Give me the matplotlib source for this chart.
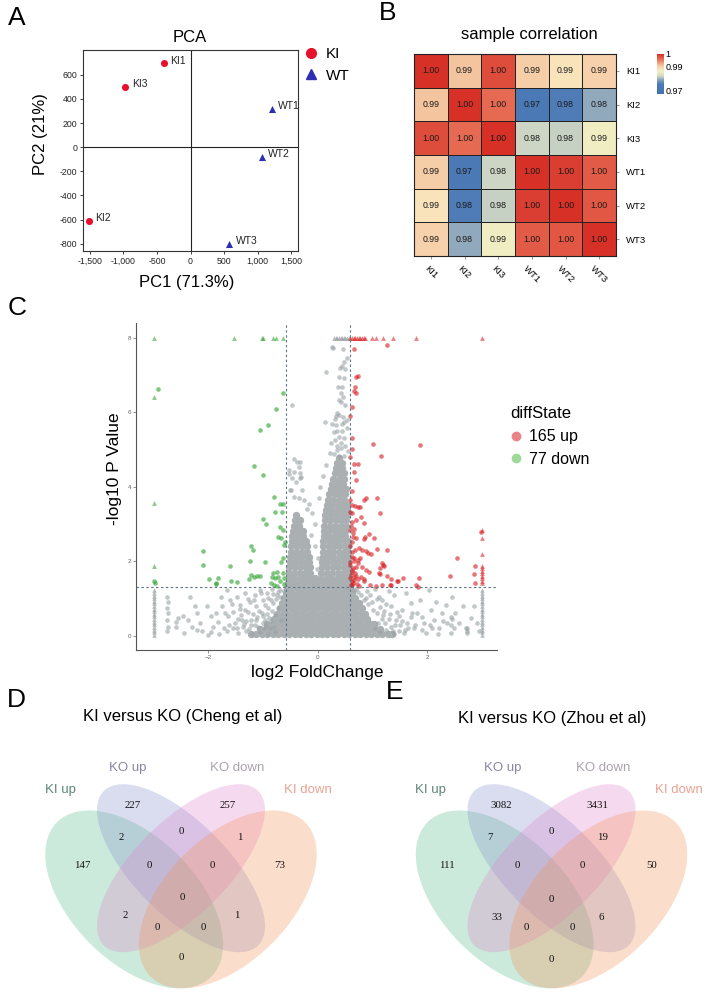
import numpy as np
import matplotlib
matplotlib.use('Agg')
import matplotlib.pyplot as plt
from matplotlib.patches import Ellipse
from matplotlib.colors import LinearSegmentedColormap, Normalize
from matplotlib.lines import Line2D

plt.rcParams['font.family'] = ['Liberation Sans', 'DejaVu Sans']

# ---------------- DATA ----------------
# A: PCA
pca_samples = ['KI1', 'KI2', 'KI3', 'WT1', 'WT2', 'WT3']
pca_group = ['KI', 'KI', 'KI', 'WT', 'WT', 'WT']
pca_pc1 = [-400, -1520, -970, 1210, 1060, 580]
pca_pc2 = [695, -610, 500, 320, -80, -800]
pca_xticks = [-1500, -1000, -500, 0, 500, 1000, 1500]
pca_yticks = [-800, -600, -400, -200, 0, 200, 400, 600]

# B: sample correlation
corr_labels = ['KI1', 'KI2', 'KI3', 'WT1', 'WT2', 'WT3']
corr_values = [
    [1.000, 0.9905, 0.998, 0.9900, 0.9875, 0.9895],
    [0.9905, 1.000, 0.996, 0.9745, 0.9755, 0.9790],
    [0.998, 0.996, 1.000, 0.9815, 0.9812, 0.9856],
    [0.9900, 0.9745, 0.9815, 1.000, 0.9990, 0.9970],
    [0.9875, 0.9755, 0.9812, 0.9990, 1.000, 0.9972],
    [0.9895, 0.9790, 0.9856, 0.9970, 0.9972, 1.000],
]
corr_ticks = [0.97, 0.99, 1.0]
corr_ticklabels = ['0.97', '0.99', '1']

# C: volcano  (x = log2 FoldChange, y = -log10 P)
fc_cut = 0.585
p_cut = 1.301
# dense grey cloud (rows of points)
gray_dense_y = [0.04, 0.18, 0.32, 0.46, 0.60, 0.74, 0.88, 1.02, 1.16, 1.28,
                1.42, 1.56, 1.70, 1.84, 1.98, 2.12, 2.26, 2.40, 2.54, 2.68,
                2.82, 2.96, 3.10, 3.24, 3.38, 3.52, 3.66, 3.80, 3.94, 4.08, 4.22, 4.36,
                4.50, 4.64, 4.78]
gray_dense_x = [
    [-1.22, -1.12, -1.02, -0.92, -0.82, -0.72, -0.62, -0.52, -0.42, -0.32, -0.22, -0.12, -0.02, 0.08, 0.18, 0.28, 0.38, 0.48, 0.58, 0.68, 0.78, 0.88, 0.98, 1.08, 1.18, 1.28, 1.36],
    [-1.05, -0.95, -0.85, -0.75, -0.65, -0.55, -0.45, -0.35, -0.25, -0.15, -0.05, 0.05, 0.15, 0.25, 0.35, 0.45, 0.55, 0.65, 0.75, 0.85, 0.95, 1.05, 1.14],
    [-0.92, -0.82, -0.72, -0.62, -0.52, -0.42, -0.32, -0.22, -0.12, -0.02, 0.08, 0.18, 0.28, 0.38, 0.48, 0.58, 0.68, 0.78, 0.88, 0.98, 1.03],
    [-0.80, -0.70, -0.60, -0.50, -0.40, -0.30, -0.20, -0.10, 0.00, 0.10, 0.20, 0.30, 0.40, 0.50, 0.60, 0.70, 0.80, 0.90],
    [-0.74, -0.64, -0.54, -0.44, -0.34, -0.24, -0.14, -0.04, 0.06, 0.16, 0.26, 0.36, 0.46, 0.56, 0.66, 0.76, 0.86],
    [-0.69, -0.59, -0.49, -0.39, -0.29, -0.19, -0.09, 0.01, 0.11, 0.21, 0.31, 0.41, 0.51, 0.61, 0.71, 0.81],
    [-0.65, -0.55, -0.45, -0.35, -0.25, -0.15, -0.05, 0.05, 0.15, 0.25, 0.35, 0.45, 0.55, 0.65, 0.75],
    [-0.61, -0.51, -0.41, -0.31, -0.21, -0.11, -0.01, 0.09, 0.19, 0.29, 0.39, 0.49, 0.59, 0.69],
    [-0.58, -0.48, -0.38, -0.28, -0.18, -0.08, 0.02, 0.12, 0.22, 0.32, 0.42, 0.52, 0.62],
    [-0.56, -0.46, -0.36, -0.26, -0.16, -0.06, 0.04, 0.14, 0.24, 0.34, 0.44, 0.54, 0.60],
    [-0.54, -0.44, -0.34, -0.24, -0.14, -0.04, 0.03, 0.10, 0.20, 0.30, 0.40, 0.50, 0.56],
    [-0.53, -0.43, -0.33, -0.23, -0.13, -0.05, 0.07, 0.17, 0.27, 0.37, 0.47, 0.56],
    [-0.53, -0.43, -0.33, -0.23, -0.13, 0.07, 0.17, 0.27, 0.37, 0.47, 0.56],
    [-0.52, -0.42, -0.32, -0.22, -0.14, 0.08, 0.18, 0.28, 0.38, 0.48, 0.56],
    [-0.51, -0.41, -0.31, -0.21, -0.15, 0.08, 0.18, 0.28, 0.38, 0.48, 0.56],
    [-0.50, -0.40, -0.30, -0.20, -0.16, 0.09, 0.19, 0.29, 0.39, 0.49, 0.56],
    [-0.49, -0.39, -0.29, -0.19, 0.09, 0.19, 0.29, 0.39, 0.49, 0.56],
    [-0.48, -0.38, -0.28, -0.20, 0.10, 0.20, 0.30, 0.40, 0.50, 0.56],
    [-0.47, -0.37, -0.27, -0.21, 0.10, 0.20, 0.30, 0.40, 0.50, 0.56],
    [-0.46, -0.36, -0.26, 0.11, 0.21, 0.31, 0.41, 0.51],
    [-0.45, -0.35, -0.27, 0.11, 0.21, 0.31, 0.41, 0.51],
    [-0.43, -0.34, 0.12, 0.22, 0.32, 0.42, 0.52],
    [-0.41, -0.33, 0.13, 0.23, 0.33, 0.43, 0.52],
    [-0.39, 0.14, 0.24, 0.34, 0.44, 0.53],
    [0.15, 0.25, 0.35, 0.45, 0.54],
    [0.17, 0.27, 0.37, 0.47, 0.54],
    [0.19, 0.29, 0.39, 0.49],
    [0.21, 0.31, 0.41, 0.51],
    [0.24, 0.34, 0.44, 0.52],
    [0.27, 0.37, 0.47],
    [0.29, 0.39, 0.49],
    [0.31, 0.41, 0.49],
    [0.34, 0.44],
    [0.36, 0.45],
    [0.40],
]
# sparse grey points
gray_x = [-2.75, -2.73, -2.75, -2.73, -2.75, -2.73, -2.75, -2.59, -2.59, -2.55, -2.46, -2.37, -2.34, -2.30,
          -2.24, -2.21, -2.15, -2.12, -2.03, -2.00, -1.94, -1.92, -1.85, -1.82, -1.76, -1.74, -1.71, -1.66,
          -1.63, -1.60, -1.54, -1.51, -1.48, -1.42, -1.39, -1.36, -1.33, -1.27, -1.24, -1.21, -1.15, -1.12,
          -1.09, -1.05, -1.02, -0.99, -0.96, -0.93, -0.90, -0.87, -0.84, -0.81, -0.78, -0.75, -0.72, -0.69, -0.66,
          -2.45, -2.20, -1.95, -1.80, -1.65, -1.55, -1.45, -1.30, -1.20, -1.15, -1.05, -0.98, -1.40, -1.30,
          -1.18, -1.10, -1.00, -0.92, -0.90, -0.85, -0.80, -0.78,
          -1.62, -1.48, -1.35, -1.25, -1.12, -1.00, -0.95, -0.88, -0.83, -1.45, -1.33, -1.22, -1.08, -0.96,
          -0.86, -0.76, -1.70, -1.57, -1.42, -1.28, -1.16, -1.03, -0.91, -0.82, -0.73, -0.68, -0.62,
          1.09, 1.18, 1.24, 1.34, 1.40, 1.43, 1.49, 1.55, 1.61, 1.64, 1.70, 1.76, 1.82, 1.88, 1.95, 1.98,
          2.04, 2.07, 2.13, 2.16, 2.22, 2.28, 2.34, 2.37, 2.43, 2.46, 2.52, 2.59, 2.65, 2.71, 2.74, 2.80,
          2.86, 2.92, 2.95, 1.05, 1.10, 1.15, 1.20, 1.25, 1.30, 1.35, 1.40, 1.45, 1.50, 1.60, 1.70, 1.25,
          1.12, 1.00, 0.95, 1.05, 0.90, 0.85, 1.30, 2.20, 2.50, 2.45, 1.90, 2.05, 2.74, 2.74, 2.43, 2.43,
          1.42, 1.55, 1.66, 1.78, 1.22, 1.33, 1.48, 1.15, 1.02, 0.93, 0.88, 0.80, 0.74, 0.70, 0.66, 1.08,
          1.18, 1.38, 1.58, 1.72, 1.90, 2.10, 2.30,
          -0.44, -0.37, -0.52, -0.43, -0.34, -0.46, -0.40, -0.31, -0.49, -0.28, -0.43, -0.34, -0.25, -0.51,
          -0.46, -0.33, -0.33, -0.52, -0.32, -0.20, -0.15, -0.10, -0.05, -0.12, -0.05, 0.00, -0.02,
          0.13, 0.15, 0.27, 0.29, 0.46, 0.53, 0.48, 0.45, 0.41, 0.50, 0.40, 0.48, 0.38, 0.45, 0.43, 0.46,
          0.39, 0.43, 0.50, 0.36, 0.34, 0.39, 0.32, 0.47, 0.53, 0.27, 0.33, 0.45, 0.49, 0.36, 0.30, 0.45,
          0.53, 0.39, 0.48, 0.31, 0.42, 0.25, 0.35, 0.43, 0.51, 0.36, 0.30, 0.39, 0.48, 0.55, 0.22, 0.15,
          0.10, 0.05, 0.02]
gray_y = [1.05, 0.92, 0.74, 0.61, 0.43, 0.25, 0.12, 0.38, 0.25, 0.47, 0.52, 0.43, 1.05, 0.25,
          0.79, 0.61, 0.34, 0.12, 0.79, 0.03, 0.52, 0.25, 0.61, 0.38, 1.05, 0.79, 0.21, 1.23,
          0.52, 0.96, 0.65, 0.34, 1.05, 0.83, 0.43, 0.25, 1.14, 0.65, 0.92, 0.43, 1.10, 0.79,
          0.25, 1.23, 0.61, 0.96, 0.43, 1.14, 0.74, 0.21, 1.25, 0.88, 0.56, 1.10, 0.74, 1.23, 0.43,
          0.08, 0.15, 0.10, 0.05, 0.12, 0.20, 0.08, 0.14, 0.06, 0.30, 0.10, 0.20, 0.55, 0.40,
          0.60, 0.50, 0.35, 0.60, 0.05, 0.40, 0.25, 0.10,
          0.30, 0.22, 0.32, 0.18, 0.42, 0.52, 0.30, 0.48, 0.66, 0.45, 0.70, 0.28, 0.66, 0.82,
          0.95, 0.98, 0.62, 0.85, 0.72, 0.98, 0.95, 1.15, 1.02, 1.12, 1.18, 1.05, 1.20,
          0.61, 0.96, 0.34, 0.79, 1.10, 0.43, 0.12, 0.70, 1.14, 0.34, 0.88, 0.21, 0.61, 0.96, 0.34, 0.07,
          1.23, 0.70, 0.43, 0.92, 0.21, 0.61, 0.83, 0.34, 0.07, 1.05, 0.61, 0.34, 0.79, 0.21, 0.07, 0.47,
          0.79, 0.34, 0.12, 0.20, 0.35, 0.10, 0.55, 0.15, 0.45, 0.25, 0.05, 0.65, 0.30, 0.15, 0.50, 0.85,
          1.05, 0.90, 1.10, 1.25, 1.20, 0.95, 1.20, 0.05, 0.20, 0.45, 0.15, 0.30, 0.14, 0.21, 0.30, 0.50,
          0.28, 0.40, 0.22, 0.30, 0.68, 0.58, 0.52, 0.78, 0.70, 0.85, 1.02, 1.10, 1.18, 1.26, 1.22, 0.98,
          0.45, 0.12, 0.08, 0.62, 0.50, 0.22, 0.40,
          4.76, 4.67, 4.45, 4.41, 4.54, 4.23, 4.14, 4.27, 3.91, 3.91, 3.73, 3.69, 3.65, 3.91,
          6.21, 4.38, 4.24, 4.34, 4.67, 3.40, 3.55, 3.30, 3.00, 2.70, 2.40, 2.10, 1.80,
          5.75, 7.09, 7.76, 7.74, 7.71, 7.45, 7.35, 7.24, 7.18, 7.16, 6.94, 6.91, 6.68, 6.67, 6.51, 6.42,
          6.33, 6.27, 6.21, 5.99, 5.91, 5.93, 5.82, 5.88, 5.79, 5.70, 5.66, 5.68, 5.74, 5.50, 5.48, 5.50,
          5.59, 5.34, 5.30, 5.25, 5.19, 5.19, 5.10, 5.05, 5.10, 4.99, 4.87, 4.83, 4.83, 4.95, 4.90, 4.60,
          4.30, 4.00, 3.70]
# grey points outside the plotted range (triangles)
gray_tri_x = [-3.0] * 18 + [3.0] * 18 + [0.30, 0.33, 0.36, 0.39, 0.42, 0.45, 0.48, 0.51, 0.54, 0.57]
gray_tri_y = [0.03, 0.10, 0.17, 0.24, 0.31, 0.38, 0.45, 0.52, 0.59, 0.66, 0.73, 0.80, 0.87, 0.94, 1.01, 1.08, 1.15, 1.22,
              0.03, 0.10, 0.17, 0.24, 0.31, 0.38, 0.45, 0.52, 0.59, 0.66, 0.73, 0.80, 0.87, 0.94, 1.01, 1.08, 1.15, 1.22,
              8, 8, 8, 8, 8, 8, 8, 8, 8, 8]
# up-regulated (165 up)
up_x = [1.27, 0.66, 0.71, 0.74, 0.68, 0.66, 0.71, 0.62, 0.59, 0.62, 1.01, 1.88, 0.62, 1.16, 0.66, 0.73, 0.70,
        0.85, 0.88, 1.09, 1.14, 0.63, 0.68, 0.73, 0.77, 0.60, 0.63, 0.79, 0.84, 0.63, 0.60, 0.66, 0.94, 0.87,
        0.85, 1.04, 0.65, 0.70, 0.63, 0.76, 0.82, 0.88, 0.92, 0.97, 1.08, 1.26, 0.62, 0.67, 0.73, 1.20, 1.15,
        0.82, 0.88, 0.94, 0.60, 0.65, 0.62, 0.68, 1.12, 1.14, 1.26, 0.79, 0.84, 0.85, 1.34, 1.46, 1.56, 0.62,
        0.67, 0.63, 0.96, 1.06, 1.17, 1.34, 1.79, 1.84, 1.86, 2.55, 2.42, 2.88, 2.86, 2.88, 2.98,
        0.61, 0.64, 0.60, 0.66, 0.61, 0.70, 0.63, 0.60, 0.66, 0.62, 0.68, 0.60, 0.65, 0.61, 0.70, 0.60, 0.62,
        0.66, 0.60, 0.72, 0.74, 0.76, 0.70, 0.74, 0.78, 1.21, 1.18, 1.32, 1.47]
up_y = [7.80, 7.69, 6.94, 6.98, 6.68, 6.58, 6.52, 6.15, 5.90, 5.32, 5.15, 5.12, 5.01, 4.83, 4.62, 4.62, 4.18,
        3.66, 3.69, 3.71, 3.29, 3.51, 3.48, 3.46, 3.45, 3.33, 3.29, 3.20, 3.02, 3.06, 2.84, 2.88, 2.73, 2.66,
        2.59, 2.64, 2.66, 2.62, 2.53, 2.35, 2.30, 2.28, 2.23, 2.21, 2.32, 2.30, 2.13, 2.08, 2.04, 1.90, 1.81,
        1.86, 1.77, 1.72, 1.90, 1.81, 1.72, 1.68, 1.68, 1.65, 1.62, 1.59, 1.53, 1.47, 1.52, 1.47, 1.54, 1.46,
        1.50, 1.37, 1.37, 1.34, 1.37, 1.37, 1.37, 1.32, 1.54, 2.08, 1.61, 1.88, 1.65, 1.41, 2.79,
        1.36, 1.42, 1.55, 1.58, 1.64, 1.60, 1.78, 1.98, 2.00, 2.25, 2.30, 2.42, 2.75, 2.95, 3.10, 3.65, 3.90,
        4.40, 4.80, 1.40, 1.52, 1.35, 1.85, 1.95, 2.10, 1.88, 1.95, 1.37, 1.46]
up_tri_x = [0.60, 0.63, 0.66, 0.69, 0.72, 0.75, 0.78, 0.81, 0.84, 0.87, 1.00, 1.06, 1.19, 1.38, 1.80, 3.01,
            3.0, 3.0, 3.0, 3.0, 3.0, 3.0, 3.0, 3.0, 3.0, 3.0, 3.0]
up_tri_y = [8, 8, 8, 8, 8, 8, 8, 8, 8, 8, 8, 8, 8, 8, 8, 8,
            2.64, 2.21, 1.88, 1.81, 1.75, 1.68, 1.61, 1.54, 1.47, 1.41, 2.84]
# down-regulated (77 down)
down_x = [-2.91, -0.64, -0.76, -0.90, -1.05, -1.17, -1.00, -0.79, -0.68, -0.63, -0.78, -0.65, -1.00, -0.95,
          -0.68, -0.63, -0.72, -0.66, -0.60, -0.61, -1.22, -1.19, -2.09, -2.10, -1.61, -1.24, -0.96, -0.64,
          -0.66, -1.21, -1.16, -1.10, -1.05, -0.82, -0.75, -0.84, -0.78, -0.72, -0.63, -0.62, -1.25, -1.98,
          -1.82, -1.86, -1.85, -1.59, -1.48, -0.86, -0.80, -0.75, -0.69, -0.62, -3.00, -2.97]
down_y = [6.64, 6.51, 6.10, 5.66, 5.52, 4.57, 4.33, 3.72, 3.54, 3.54, 3.32, 3.33, 3.13, 3.00,
          2.93, 2.84, 2.66, 2.62, 2.53, 2.44, 2.41, 2.31, 2.28, 1.90, 1.88, 2.01, 1.99, 2.08,
          1.99, 1.64, 1.59, 1.62, 1.62, 1.70, 1.72, 1.59, 1.55, 1.59, 1.68, 1.55, 1.53, 1.53,
          1.56, 1.43, 1.38, 1.46, 1.44, 1.41, 1.37, 1.34, 1.46, 1.39, 1.46, 1.42]
down_tri_x = [-3.0, -1.53, -1.02, -1.00, -0.82, -0.76, -0.64, -3.0, -3.0, -3.0]
down_tri_y = [8, 8, 8, 8, 8, 8, 8, 6.42, 3.57, 1.88]
volcano_xticks = [-2, 0, 2]
volcano_yticks = [0, 2, 4, 6, 8]
volcano_legend = ['165 up', '77 down']

# D / E: Venn diagrams
venn_sets = ['KI up', 'KO up', 'KO down', 'KI down']
# region order: KOup, KOdown, KIup&KOup, KOup&KOdown, KOdown&KIdown, KIup, KIup&KOup&KOdown,
#   KOup&KOdown&KIdown, KIdown, all, KIup&KOdown, KOup&KIdown, KIup&KOdown&KIdown, KIup&KOup&KIdown, KIup&KIdown
cheng_counts = [227, 257, 2, 0, 1, 147, 0, 0, 73, 0, 2, 1, 0, 0, 0]
zhou_counts = [3082, 3431, 7, 0, 19, 111, 0, 0, 50, 0, 33, 6, 0, 0, 0]

# ---------------- LAYOUT HELPERS ----------------
W, H = 728, 1000
fig = plt.figure(figsize=(W / 100, H / 100), dpi=100)


def fxy(x, y):
    return x / W, 1 - y / H


def rect(l, t, r, b):
    return [l / W, 1 - b / H, (r - l) / W, (b - t) / H]


def ftext(x, y, s, **kw):
    fx, fy = fxy(x, y)
    kw.setdefault('ha', 'center')
    kw.setdefault('va', 'center')
    return fig.text(fx, fy, s, **kw)


# panel letters
for lab, (x, y) in zip('ABCDE', [(17, 18), (388, 13), (17, 308), (16, 700), (395, 692)]):
    ftext(x, y, lab, fontsize=19)

# ---------------- A: PCA ----------------
axA = fig.add_axes(rect(83, 50, 298, 251))
col = {'KI': '#e8112d', 'WT': '#2e2eb5'}
mk = {'KI': 'o', 'WT': '^'}
for g in ['KI', 'WT']:
    xs = [x for x, gg in zip(pca_pc1, pca_group) if gg == g]
    ys = [y for y, gg in zip(pca_pc2, pca_group) if gg == g]
    axA.scatter(xs, ys, s=26, marker=mk[g], color=col[g], lw=0, zorder=3)
for s, x, y in zip(pca_samples, pca_pc1, pca_pc2):
    axA.annotate(s, (x, y), xytext=(4.5, 2), textcoords='offset points', fontsize=7.5,
                 ha='left', va='center', color='#222')
axA.axhline(0, color='#222', lw=0.8, zorder=1)
axA.axvline(0, color='#222', lw=0.8, zorder=1)
axA.set_xlim(-1604, 1604)
axA.set_ylim(-860, 805)
axA.set_xticks(pca_xticks)
axA.set_xticklabels([f'{v:,}' for v in pca_xticks])
axA.set_yticks(pca_yticks)
axA.set_yticklabels([str(v) for v in pca_yticks])
axA.tick_params(labelsize=6.3, length=2.5, width=0.6, pad=1.5, colors='#222')
for sp in axA.spines.values():
    sp.set_linewidth(0.8)
    sp.set_color('#333')
ftext(190, 37, 'PCA', fontsize=12)
ftext(187, 283, 'PC1 (71.3%)', fontsize=12)
ftext(40, 134, 'PC2 (21%)', fontsize=12, rotation=90)
hA = [Line2D([], [], marker='o', ls='none', color=col['KI'], markersize=7, label='KI'),
      Line2D([], [], marker='^', ls='none', color=col['WT'], markersize=7, label='WT')]
axA.legend(handles=hA, loc='upper left', bbox_to_anchor=fxy(303, 47), bbox_transform=fig.transFigure,
           frameon=False, fontsize=11, handlelength=1.0, handletextpad=0.5, labelspacing=0.5,
           borderpad=0, borderaxespad=0)

# ---------------- B: correlation heatmap ----------------
axB = fig.add_axes(rect(414, 54, 616, 256))
cmap = LinearSegmentedColormap.from_list('corr', [
    (0.0, '#4372b2'), (0.25, '#4c7ab6'), (0.37, '#93abbd'), (0.45, '#d6dbc5'),
    (0.56, '#f0eec4'), (0.62, '#f8e4bc'), (0.70, '#f5cca6'), (0.86, '#e87258'), (1.0, '#d73027')])
norm = Normalize(vmin=0.967, vmax=1.0)
C = np.array(corr_values)
mesh = axB.pcolormesh(C, cmap=cmap, norm=norm, edgecolors='#222', linewidth=0.7)
axB.set_xlim(0, 6)
axB.set_ylim(6, 0)
for i in range(6):
    for j in range(6):
        axB.text(j + 0.5, i + 0.5, f'{C[i, j]:.2f}', ha='center', va='center', fontsize=6.3, color='#1a1a1a')
axB.set_xticks(np.arange(6) + 0.5)
axB.set_xticklabels(corr_labels, rotation=-45, ha='center', va='top', fontsize=6.8)
axB.set_yticks(np.arange(6) + 0.5)
axB.set_yticklabels(corr_labels, fontsize=6.8)
axB.tick_params(axis='y', left=False, right=True, labelleft=False, labelright=True, length=2.5,
                color='#999', pad=5)
axB.tick_params(axis='x', length=2.5, color='#999', pad=3)
for sp in axB.spines.values():
    sp.set_linewidth(0.8)
    sp.set_color('#222')
ftext(529, 34, 'sample correlation', fontsize=12)
cax = fig.add_axes(rect(657, 54, 664, 94))
cb = fig.colorbar(mesh, cax=cax, ticks=corr_ticks)
cb.ax.set_yticklabels(corr_ticklabels)
cb.ax.tick_params(length=0, labelsize=6.5, pad=1)
cb.outline.set_visible(False)

# ---------------- C: volcano ----------------
axC = fig.add_axes(rect(136, 323, 497, 650))
dx, dy = [], []
for yv, xs in zip(gray_dense_y, gray_dense_x):
    dx += xs
    dy += [yv] * len(xs)
axC.scatter(dx, dy, s=28, color='#aab0b2', lw=0, zorder=1)
axC.scatter(gray_x, gray_y, s=11, color='#9aa2a5', alpha=0.6, lw=0, zorder=2)
axC.scatter(gray_tri_x, gray_tri_y, s=11, marker='^', color='#9aa2a5', alpha=0.7, lw=0, zorder=2)
axC.scatter(up_x, up_y, s=11, color='#d7191c', alpha=0.6, lw=0, zorder=3)
axC.scatter(up_tri_x, up_tri_y, s=12, marker='^', color='#d7191c', alpha=0.55, lw=0, zorder=3)
axC.scatter(down_x, down_y, s=11, color='#2ca02c', alpha=0.6, lw=0, zorder=3)
axC.scatter(down_tri_x, down_tri_y, s=12, marker='^', color='#2ca02c', alpha=0.55, lw=0, zorder=3)
for v in (-fc_cut, fc_cut):
    axC.axvline(v, color='#5f7285', lw=0.8, ls=(0, (2.2, 2.2)), zorder=4)
axC.axhline(p_cut, color='#5f7285', lw=0.8, ls=(0, (2.2, 2.2)), zorder=4)
axC.set_xlim(-3.32, 3.28)
axC.set_ylim(-0.38, 8.4)
axC.set_xticks(volcano_xticks)
axC.set_yticks(volcano_yticks)
axC.tick_params(labelsize=4.5, length=2, width=0.5, pad=1.5, colors='#666')
for side in ('top', 'right'):
    axC.spines[side].set_visible(False)
for side in ('left', 'bottom'):
    axC.spines[side].set_color('#555')
    axC.spines[side].set_linewidth(0.8)
ftext(114, 469, '-log10 P Value', fontsize=12.5, rotation=90)
ftext(317, 672, 'log2 FoldChange', fontsize=12.5)
hC = [Line2D([], [], marker='o', ls='none', color='#ea8388', markersize=6, label=volcano_legend[0]),
      Line2D([], [], marker='o', ls='none', color='#9fd89b', markersize=6, label=volcano_legend[1])]
legC = axC.legend(handles=hC, title='diffState', loc='upper left', bbox_to_anchor=fxy(510, 406),
                  bbox_transform=fig.transFigure, frameon=False, fontsize=11.5, title_fontsize=12,
                  handlelength=0.8, handletextpad=0.4, labelspacing=0.45, borderpad=0, borderaxespad=0)
legC._legend_box.align = 'left'
legC._legend_box.sep = 6

# ---------------- D / E: Venn ----------------
axV = fig.add_axes([0, 0, 1, 1])
axV.set_xlim(0, W)
axV.set_ylim(H, 0)
axV.axis('off')
axV.patch.set_alpha(0)

venn_fill = ['#58bc8a', '#8491cd', '#de84cd', '#f59158']
venn_label_col = ['#5f8577', '#8985a6', '#aaa3ad', '#eaa294']
# ellipse geometry relative to diagram centre (pixels): dx, dy, width, height, angle
ell_geom = [(-46.8, 9.4, 218.4, 124.8, 45), (0, -21.8, 218.4, 93.6, 45),
            (0, -21.8, 218.4, 93.6, -45), (46.8, 9.4, 218.4, 124.8, -45)]
# region label positions relative to centre (pixels), same order as counts
reg_pos_D = [(-48, -84), (47, -84), (-60, -53), (0, -59), (59, -53), (-99, -25), (-32, -25), (31, -25),
             (99, -25), (1, 8), (-56, 25), (56, 25), (-24, 37), (22, 37), (0, 68)]
reg_pos_E = [(-50, -84), (46, -84), (-61, -52), (0, -58), (51, -52), (-105, -25), (-34, -25), (31, -25),
             (100, -25), (0, 10), (-55, 27), (50, 27), (-25, 38), (21, 38), (0, 69)]
set_pos_D = [(-121, -100), (-53, -122), (56, -122), (127, -100)]
set_pos_E = [(-121, -100), (-49, -122), (52, -122), (127, -100)]


def venn(cx, cy, counts, reg_pos, set_pos, title, tx, ty):
    for (ddx, ddy, w, h, a), fc in zip(ell_geom, venn_fill):
        axV.add_patch(Ellipse((cx + ddx, cy + ddy), w, h, angle=a, facecolor=fc, alpha=0.3, lw=0))
    for n, (px, py) in zip(counts, reg_pos):
        axV.text(cx + px, cy + py, str(n), ha='center', va='center', fontsize=7.8,
                 family=['Liberation Serif', 'DejaVu Serif'], color='#111')
    for name, (px, py), c in zip(venn_sets, set_pos, venn_label_col):
        axV.text(cx + px, cy + py, name, ha='center', va='center', fontsize=9.5, color=c)
    ftext(tx, ty, title, fontsize=12)


venn(181, 890, cheng_counts, reg_pos_D, set_pos_D, 'KI versus KO (Cheng et al)', 183, 716)
venn(551.5, 890, zhou_counts, reg_pos_E, set_pos_E, 'KI versus KO (Zhou et al)', 552, 718)

fig.savefig('out.png', dpi=100)
